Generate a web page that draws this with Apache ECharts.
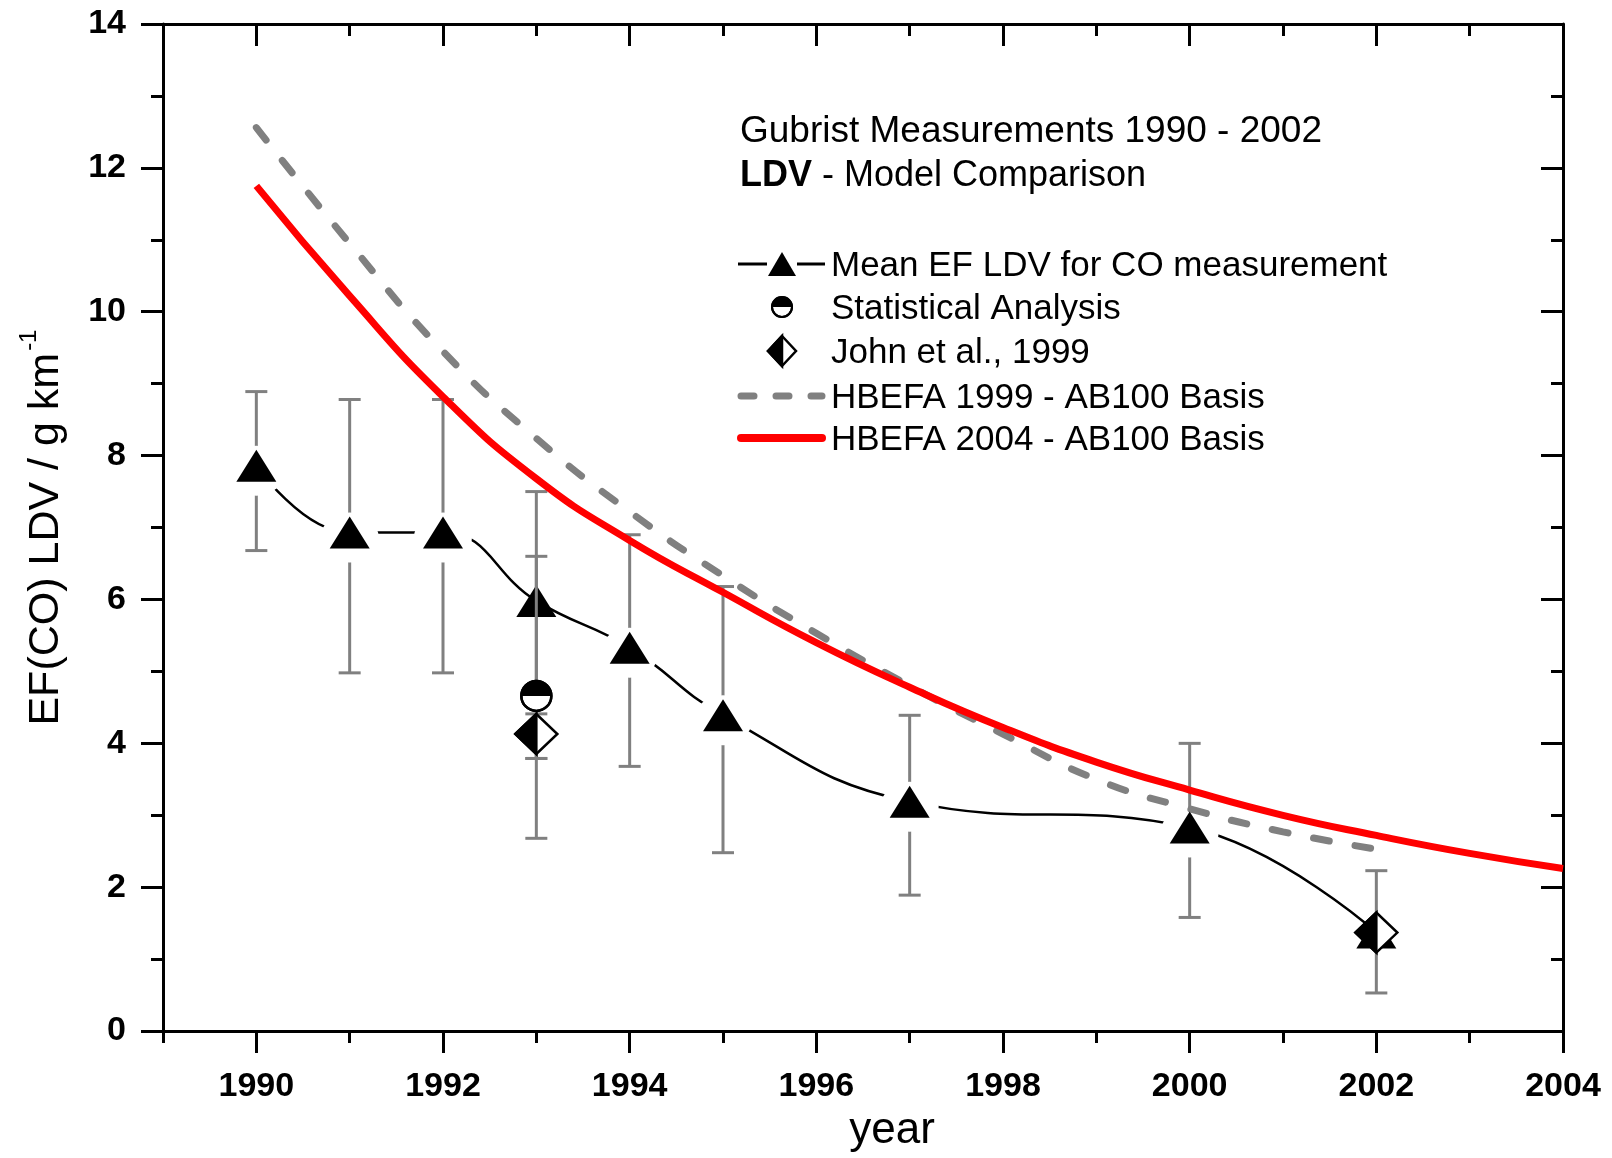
<!DOCTYPE html>
<html>
<head>
<meta charset="utf-8">
<script src="https://cdn.jsdelivr.net/npm/echarts@6/dist/echarts.min.js"></script>
<style>
html,body{margin:0;padding:0;background:#fff;}
#chart{width:1612px;height:1158px;}
</style>
</head>
<body>
<div id="chart"></div>
<script>
// ---------- data ----------
const majorYears = [1990, 1992, 1994, 1996, 1998, 2000, 2002, 2004];

const meanYears = [1990, 1991, 1992, 1993, 1994, 1995, 1997, 2000, 2002];
const meanValues = [7.86, 6.93, 6.93, 5.98, 5.33, 4.39, 3.19, 2.83, 1.37];
const meanErrLow = [6.68, 4.98, 4.98, 2.68, 3.68, 2.48, 1.89, 1.58, 0.53];
const meanErrHigh = [8.89, 8.78, 8.78, 7.50, 6.90, 6.18, 4.39, 4.00, 2.23];

const statYears = [1993];
const statValues = [4.66];
const statErrLow = [3.79];
const statErrHigh = [6.60];

const johnYears = [1993, 2002];
const johnValues = [4.13, 1.37];
const johnErrYears = [1993];
const johnErrLow = [3.79];
const johnErrHigh = [4.41];

const hbefa1999Years = [1990, 1991, 1992, 1993, 1994, 1995, 1996, 1997, 1998, 1999, 2000, 2001, 2002];
const hbefa1999Values = [12.56, 10.95, 9.45, 8.24, 7.22, 6.33, 5.53, 4.80, 4.13, 3.50, 3.09, 2.77, 2.53];

const hbefa2004Years = [1990, 1991, 1992, 1993, 1994, 1995, 1996, 1997, 1998, 1999, 2000, 2001, 2002, 2003, 2004];
const hbefa2004Values = [11.75, 10.22, 8.82, 7.68, 6.82, 6.10, 5.40, 4.78, 4.22, 3.74, 3.35, 3.00, 2.72, 2.47, 2.26];

const legendTitle1 = 'Gubrist Measurements 1990 - 2002';
const legendTitle2Bold = 'LDV';
const legendTitle2Rest = ' - Model Comparison';
const legendLabels = ['Mean EF LDV for CO measurement', 'Statistical Analysis', 'John et al., 1999', 'HBEFA 1999 - AB100 Basis', 'HBEFA 2004 - AB100 Basis'];

// ---------- helpers ----------
const FONT = '"Liberation Sans", Arial, Helvetica, sans-serif';
const pair = (xs, ys) => xs.map((x, i) => [x, ys[i]]);
const triple = (xs, a, b) => xs.map((x, i) => [x, a[i], b[i]]);

function errRender(params, api) {
  const x = api.value(0), lo = api.value(1), hi = api.value(2);
  const pLo = api.coord([x, lo]), pHi = api.coord([x, hi]);
  const cw = 11;
  const style = { stroke: '#808080', lineWidth: 3 };
  return { type: 'group', children: [
    { type: 'line', shape: { x1: pLo[0], y1: pLo[1], x2: pHi[0], y2: pHi[1] }, style },
    { type: 'line', shape: { x1: pLo[0] - cw, y1: pLo[1], x2: pLo[0] + cw, y2: pLo[1] }, style },
    { type: 'line', shape: { x1: pHi[0] - cw, y1: pHi[1], x2: pHi[0] + cw, y2: pHi[1] }, style }
  ]};
}
function halfCircle(cx, cy, r, lw) {
  return [
    { type: 'circle', shape: { cx, cy, r }, style: { fill: '#fff', stroke: '#000', lineWidth: lw } },
    { type: 'sector', shape: { cx, cy, r0: 0, r: r, startAngle: Math.PI, endAngle: 2 * Math.PI }, style: { fill: '#000' } },
    { type: 'circle', shape: { cx, cy, r }, style: { fill: 'none', stroke: '#000', lineWidth: lw } }
  ];
}
function halfDiamond(cx, cy, hw, hh, lw) {
  return [
    { type: 'polygon', shape: { points: [[cx - hw, cy], [cx, cy - hh], [cx + hw, cy], [cx, cy + hh]] }, style: { fill: '#fff', stroke: '#000', lineWidth: lw } },
    { type: 'polygon', shape: { points: [[cx - hw, cy], [cx, cy - hh], [cx, cy + hh]] }, style: { fill: '#000', stroke: '#000', lineWidth: lw, lineJoin: 'miter' } }
  ];
}

const chart = echarts.init(document.getElementById('chart'), null, { renderer: 'canvas' });

const axisLineStyle = { color: '#000', width: 3 };
const tickStyle = { color: '#000', width: 3 };

// legend graphics (positions)
const lgX0 = 738, lgX1 = 825, lgSym = 782, lgText = 831;
const lgRows = [264, 307, 351, 396, 438];

const graphics = [
  { type: 'text', left: 740, top: 113, style: { text: legendTitle1, font: 'normal 37px ' + FONT, fill: '#000' } },
  { type: 'text', left: 740, top: 158, style: {
      text: '{b|' + legendTitle2Bold + '}{n|' + legendTitle2Rest + '}',
      rich: { b: { font: 'bold 36px ' + FONT, fill: '#000' }, n: { font: 'normal 36px ' + FONT, fill: '#000' } } } },
  // row 1: line + triangle
  { type: 'line', shape: { x1: lgX0, y1: lgRows[0], x2: 767, y2: lgRows[0] }, style: { stroke: '#000', lineWidth: 3 } },
  { type: 'line', shape: { x1: 797, y1: lgRows[0], x2: lgX1, y2: lgRows[0] }, style: { stroke: '#000', lineWidth: 3 } },
  { type: 'polygon', shape: { points: [[lgSym - 14, lgRows[0] + 12], [lgSym, lgRows[0] - 12], [lgSym + 14, lgRows[0] + 12]] }, style: { fill: '#000' } },
  // row 2: half circle
  { type: 'group', children: halfCircle(lgSym, lgRows[1], 10, 2) },
  // row 3: half diamond
  { type: 'group', children: halfDiamond(lgSym, lgRows[2], 14, 15, 2.5) },
  // row 4: dashed grey
  { type: 'line', shape: { x1: lgX0 + 3, y1: lgRows[3], x2: lgX1 - 3, y2: lgRows[3] }, style: { stroke: '#808080', lineWidth: 7, lineCap: 'round', lineDash: [13, 22] } },
  // row 5: red
  { type: 'line', shape: { x1: lgX0 + 3, y1: lgRows[4], x2: lgX1 - 3, y2: lgRows[4] }, style: { stroke: '#ff0000', lineWidth: 8, lineCap: 'round' } }
];
legendLabels.forEach((t, i) => {
  graphics.push({ type: 'text', left: lgText, top: lgRows[i] - 15, style: { text: t, font: 'normal 35px ' + FONT, fill: '#000' } });
});

const yearFmt = v => String(Math.round(v));
// mean points not hidden behind another marker get a white gap halo
const gapData = pair(meanYears, meanValues).filter(p => johnYears.indexOf(p[0]) < 0);

const option = {
  backgroundColor: '#fff',
  animation: false,
  textStyle: { fontFamily: FONT },
  grid: { left: 163, right: 49, top: 24, bottom: 122, containLabel: false },
  xAxis: [
    { type: 'value', position: 'bottom', min: 1989, max: 2004,
      axisLine: { show: true, onZero: false, lineStyle: axisLineStyle },
      axisTick: { show: true, customValues: majorYears, length: 22, lineStyle: tickStyle },
      axisLabel: { show: true, customValues: majorYears, formatter: yearFmt, fontSize: 34, fontWeight: 'bold', color: '#000', margin: 39, fontFamily: FONT },
      splitLine: { show: false },
      name: 'year', nameLocation: 'middle', nameGap: 72,
      nameTextStyle: { fontSize: 44, color: '#000', fontFamily: FONT, padding: [0, 0, 0, 58] } },
    { type: 'value', position: 'bottom', min: 1989, max: 2004, interval: 1,
      axisLine: { show: false, onZero: false },
      axisTick: { show: true, length: 12, lineStyle: tickStyle },
      axisLabel: { show: false }, splitLine: { show: false } },
    { type: 'value', position: 'top', min: 1989, max: 2004,
      axisLine: { show: true, onZero: false, lineStyle: axisLineStyle },
      axisTick: { show: true, inside: true, customValues: majorYears, length: 22, lineStyle: tickStyle },
      axisLabel: { show: false }, splitLine: { show: false } },
    { type: 'value', position: 'top', min: 1989, max: 2004, interval: 1,
      axisLine: { show: false, onZero: false },
      axisTick: { show: true, inside: true, length: 12, lineStyle: tickStyle },
      axisLabel: { show: false }, splitLine: { show: false } }
  ],
  yAxis: [
    { type: 'value', position: 'left', min: 0, max: 14, interval: 2,
      axisLine: { show: true, onZero: false, lineStyle: axisLineStyle },
      axisTick: { show: true, length: 22, lineStyle: tickStyle },
      minorTick: { show: true, splitNumber: 2, length: 12, lineStyle: tickStyle },
      axisLabel: { fontSize: 34, fontWeight: 'bold', color: '#000', margin: 37, fontFamily: FONT },
      splitLine: { show: false }, minorSplitLine: { show: false },
      name: '{a|EF(CO) LDV / g km}{s|-1}', nameLocation: 'middle', nameRotate: 90, nameGap: 88,
      nameTextStyle: { color: '#000', rich: {
        a: { fontSize: 43, fontFamily: FONT, color: '#000' },
        s: { fontSize: 24, fontFamily: FONT, color: '#000', padding: [0, 0, 34, 2] } } } },
    { type: 'value', position: 'right', min: 0, max: 14, interval: 2,
      axisLine: { show: true, onZero: false, lineStyle: axisLineStyle },
      axisTick: { show: true, inside: true, length: 22, lineStyle: tickStyle },
      minorTick: { show: true, splitNumber: 2, length: 12, lineStyle: tickStyle },
      axisLabel: { show: false }, splitLine: { show: false }, minorSplitLine: { show: false } }
  ],
  graphic: graphics,
  series: [
    { name: 'meanErr', type: 'custom', xAxisIndex: 0, yAxisIndex: 0, z: 1,
      renderItem: errRender, data: triple(meanYears, meanErrLow, meanErrHigh) },
    { name: legendLabels[0], type: 'line', xAxisIndex: 0, yAxisIndex: 0, z: 2,
      data: pair(meanYears, meanValues), smooth: 0.45, showSymbol: false,
      lineStyle: { color: '#000', width: 2.5 } },
    { name: 'meanGap', type: 'scatter', xAxisIndex: 0, yAxisIndex: 0, z: 3,
      data: gapData, symbol: 'circle', symbolSize: [58, 50], symbolOffset: [0, 5],
      itemStyle: { color: '#fff', opacity: 1 }, silent: true },
    { name: legendLabels[3], type: 'line', xAxisIndex: 0, yAxisIndex: 0, z: 4,
      data: pair(hbefa1999Years, hbefa1999Values), smooth: true, showSymbol: false,
      lineStyle: { color: '#808080', width: 7, type: [16, 26], cap: 'round' } },
    { name: legendLabels[4], type: 'line', xAxisIndex: 0, yAxisIndex: 0, z: 4,
      data: pair(hbefa2004Years, hbefa2004Values), smooth: true, showSymbol: false,
      lineStyle: { color: '#ff0000', width: 7 } },
    { name: 'meanMarker', type: 'scatter', xAxisIndex: 0, yAxisIndex: 0, z: 5,
      data: pair(meanYears, meanValues), symbol: 'triangle', symbolSize: [40, 32],
      itemStyle: { color: '#000', opacity: 1 } },
    { name: 'statErr', type: 'custom', xAxisIndex: 0, yAxisIndex: 0, z: 6,
      renderItem: errRender, data: triple(statYears, statErrLow, statErrHigh) },
    { name: 'johnErr', type: 'custom', xAxisIndex: 0, yAxisIndex: 0, z: 6,
      renderItem: errRender, data: triple(johnErrYears, johnErrLow, johnErrHigh) },
    { name: legendLabels[1], type: 'custom', xAxisIndex: 0, yAxisIndex: 0, z: 7,
      data: pair(statYears, statValues),
      renderItem: (params, api) => { const p = api.coord([api.value(0), api.value(1)]);
        return { type: 'group', children: halfCircle(p[0], p[1], 15, 2.5) }; } },
    { name: legendLabels[2], type: 'custom', xAxisIndex: 0, yAxisIndex: 0, z: 8,
      data: pair(johnYears, johnValues),
      renderItem: (params, api) => { const p = api.coord([api.value(0), api.value(1)]);
        return { type: 'group', children: halfDiamond(p[0], p[1], 21, 20, 2.5) }; } }
  ]
};
chart.setOption(option);
</script>
</body>
</html>
